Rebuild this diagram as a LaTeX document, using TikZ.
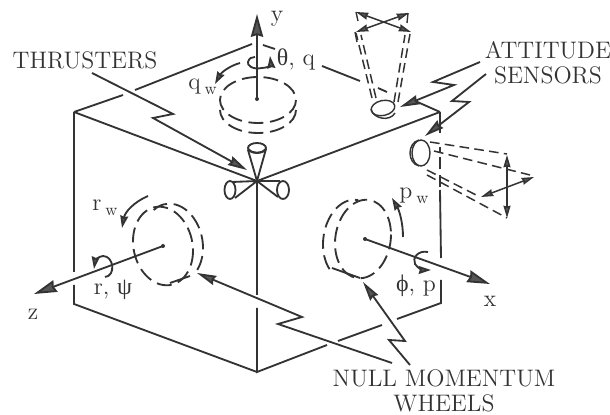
\documentclass[tikz,border=0pt]{standalone}
\usepackage{tikz}
\usepackage{fontspec}
\usetikzlibrary{arrows.meta,positioning,calc}
\newfontfamily\greekfont{Liberation Serif}
\definecolor{ink}{HTML}{333333}
\definecolor{tipgray}{HTML}{555555}
\newcommand{\wsub}{\raisebox{-3pt}{\fontsize{9.5}{10}\selectfont w}}

\begin{document}
\begin{tikzpicture}[x=0.02cm,y=-0.02cm,>=Latex]
  \tikzstyle{edge}=[ink,line width=1.05pt]
  \tikzstyle{disk}=[ink,line width=0.8pt]
  \tikzstyle{wheel}=[ink,line width=1.05pt,dash pattern=on 8.5pt off 3.8pt]
  \tikzstyle{beam}=[ink,line width=0.85pt,dash pattern=on 5.5pt off 3pt]
  \tikzstyle{axis}=[ink,line width=1.05pt,-{Stealth[length=13pt,width=7pt,inset=1pt,fill=tipgray]}]
  \tikzstyle{leader}=[ink,line width=1.05pt,-{Stealth[length=11pt,width=5.5pt,inset=1pt,fill=tipgray]}]
  \tikzstyle{spin}=[ink,line width=1.05pt,-{Stealth[length=7pt,width=4.5pt,inset=0.6pt,fill=tipgray]}]
  \tikzstyle{beamarrow}=[ink,line width=0.85pt,{Stealth[length=7pt,width=4pt,inset=0.5pt,fill=tipgray]}-{Stealth[length=7pt,width=4pt,inset=0.5pt,fill=tipgray]}]
  \tikzstyle{lbl}=[font=\fontsize{13.6}{14.2}\selectfont,align=center,text=ink,inner sep=0pt]
  \useasboundingbox (0,0) rectangle (610,415);

  % body
  \coordinate (top) at (257,181);
  \coordinate (left) at (74,112);
  \coordinate (right) at (440,112);
  \coordinate (low) at (257,372);
  \draw[edge] (left) -- (123,95);
  \draw[edge] (135,90) -- (252,44);
  \draw[edge] (263,45) -- (275,49);
  \draw[edge] (322,66) -- (360,81);
  \draw[edge] (378,88) -- (387,92);
  \draw[edge] (413,100) -- (right);
  \draw[edge] (left) -- (top) -- (right);
  \draw[edge] (left) -- (74,272);
  \draw[edge] (74,285) -- (74,304) -- (low);
  \draw[edge] (top) -- (257,295);
  \draw[edge] (257,308) -- (low) -- (327,345);
  \draw[edge] (338,341) -- (382,325);
  \draw[edge] (397,319) -- (441,303) -- (441,280);
  \draw[edge] (441,258) -- (440,190);
  \draw[edge,dash pattern=on 7pt off 3pt] (440,187) -- (440,147);
  \draw[edge] (right) -- (440,133);

  % thrusters
  \draw[edge] (248,150) -- (top) -- (266,149);
  \draw[edge] (257,148) ellipse [x radius=9,y radius=5];
  \draw[edge] (248,149) .. controls (252,154) and (262,154) .. (266,149);
  \draw[edge] (232,182) -- (top) -- (235,198);
  \draw[edge] (230,190) ellipse [x radius=5.5,y radius=9];
  \draw[edge] (280,181) -- (top) -- (278,197);
  \draw[edge] (283,190) ellipse [x radius=6,y radius=9];

  % reaction wheels
  \draw[wheel] (258,100) ellipse [x radius=38,y radius=23];
  \draw[wheel,shift={(258,110)}] (38,0) arc [start angle=0,end angle=180,x radius=38,y radius=23];
  \draw[wheel,cm={1,-0.16,0,1,(163,246)}] (30,0) arc [start angle=0,end angle=360,x radius=30,y radius=39];
  \draw[wheel,cm={1,-0.16,0,1,(173,243)}] (-130:30 and 39) arc [start angle=-130,end angle=40,x radius=30,y radius=39];
  \draw[edge] (170,283) -- (190,276);
  \draw[wheel,cm={1,0.16,0,1,(363,239)}] (28,0) arc [start angle=0,end angle=360,x radius=28,y radius=39];
  \draw[wheel,cm={1,0.16,0,1,(351,240)}] (140:28 and 40) arc [start angle=140,end angle=285,x radius=28,y radius=40];
  \draw[edge] (332,268) -- (360,278);

  % attitude sensors
  \draw[disk,rotate around={12:(383,108)}] (383,108) ellipse [x radius=12,y radius=7.5];
  \draw[disk] (371,109) .. controls (373,119) and (390,122) .. (395,113);
  \draw[beam] (372,98) -- (356,33);
  \draw[beam] (376,98) -- (361,35);
  \draw[beam] (394,102) -- (405,35);
  \draw[beam] (398,102) -- (410,34);
  \draw[beamarrow] (356,12) -- (411,32);
  \draw[beamarrow] (356,32) -- (409,13);
  \draw[disk] (356,12) -- (358,21);
  \draw[disk] (408,13) -- (407,23);
  \draw[disk] (355,32) -- (357,42);

  \draw[disk] (421,153) ellipse [x radius=9,y radius=13];
  \draw[disk] (419,140) .. controls (407,143) and (407,163) .. (419,166);
  \draw[beam] (430,142) -- (507,154);
  \draw[beam] (434,151) -- (530,175);
  \draw[beam] (427,170) -- (480,197);
  \draw[beam] (427,175) -- (507,218);
  \draw[beamarrow] (507,155) -- (507,218);
  \draw[beamarrow] (481,197) -- (534,177);

  % axes
  \coordinate (wheely) at (257,99);
  \coordinate (wheelz) at (163,246);
  \coordinate (wheelx) at (365,239);
  \fill[ink] (wheely) circle [radius=2];
  \fill[ink] (wheelz) circle [radius=2];
  \fill[ink] (wheelx) circle [radius=2];
  \draw[axis] (wheely) -- (257,14);
  \draw[axis] (wheelz) -- (34,294);
  \draw[axis] (wheelx) -- (490,284);
  \node[lbl] (ylbl) at (277,19) {y};
  \node[lbl] (zlbl) at (33,314) {z};
  \node[lbl] (xlbl) at (490,301) {x};

  % rotations
  \draw[edge] (262,68) .. controls (252,70) and (247,65) .. (248,62) .. controls (249,58) and (252,57) .. (255,57);
  \draw[spin] (262,68) .. controls (267,68) and (271,65) .. (270,56);
  \node[lbl] (pitchlbl) at (296,59) {{\greekfont θ}, q};
  \draw[spin] (240,63) .. controls (229,66) and (221,73) .. (215,84);
  \node[lbl,anchor=west] (qwlbl) at (188,87) {q\,\wsub};
  \draw[spin] (105,277) .. controls (116,276) and (114,256) .. (103,256) .. controls (98,256) and (95,262) .. (94,269);
  \node[lbl] (yawlbl) at (113,290) {r, {\greekfont ψ}};
  \draw[spin] (148,196) .. controls (134,202) and (125,212) .. (122,228);
  \node[lbl,anchor=west] (rwlbl) at (92,208) {r\,\wsub};
  \draw[spin] (428,252) .. controls (418,250) and (412,258) .. (415,264) .. controls (418,269) and (424,270) .. (431,270);
  \node[lbl] (rolllbl) at (416,286) {{\greekfont ϕ}, p};
  \draw[spin] (403,237) .. controls (403,222) and (399,210) .. (392,198);
  \node[lbl,anchor=west] (pwlbl) at (399,196) {p\,\wsub};

  % callouts
  \node[lbl] (thrusters) at (85,60) {THRUSTERS};
  \node[lbl] (sensors) at (548,63) {ATTITUDE\\SENSORS};
  \node[lbl] (wheels) at (444,391) {NULL MOMENTUM\\WHEELS};
  \draw[leader] (92,73) -- (173,114) -- (153,118) -- (247,170);
  \draw[leader] (480,62) -- (433,82) -- (454,85) -- (400,107);
  \draw[leader] (486,74) -- (452,101) -- (469,102) -- (425,136);
  \draw[leader] (392,363) -- (278,324) -- (302,317) -- (197,273);
  \draw[leader] (410,365) -- (389,340) -- (405,341) -- (363,282);
\end{tikzpicture}
\end{document}
